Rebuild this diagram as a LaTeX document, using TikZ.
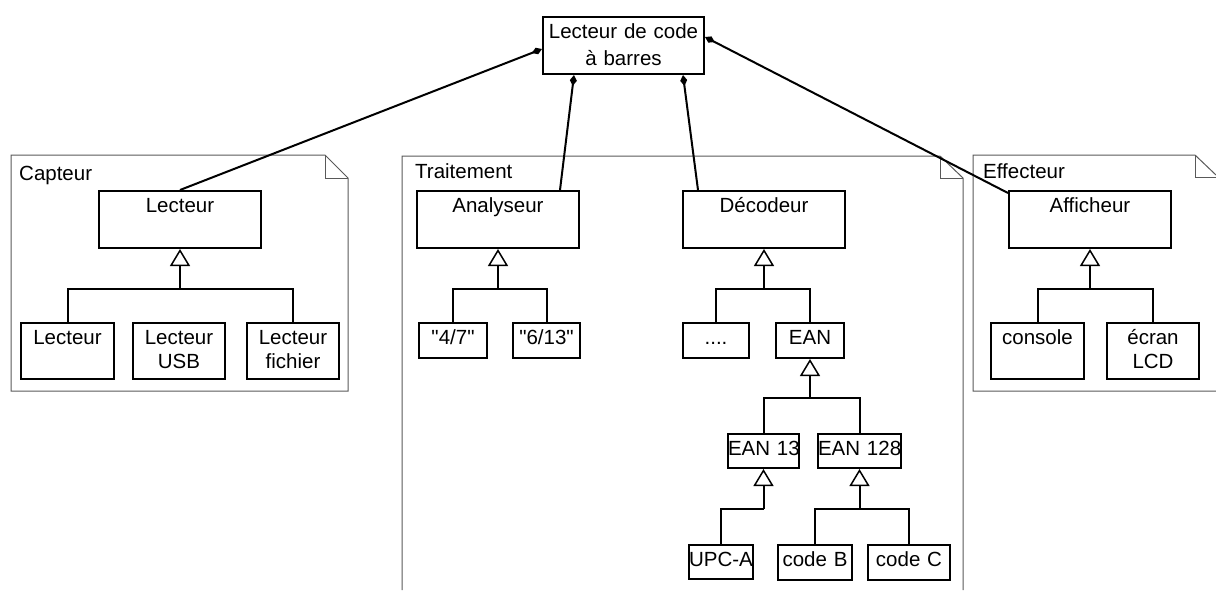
\documentclass[tikz,border=0pt]{standalone}
\usepackage{fontspec}
\setmainfont{Liberation Sans}
\usetikzlibrary{arrows.meta}

\begin{document}
\begin{tikzpicture}[x=1pt,y=-1pt,
  font=\fontsize{20.5}{24}\selectfont,
  cls/.style={draw,line width=2pt,anchor=north west,inner sep=0pt,align=center,
    text height=21pt,text depth=#1},
  cls/.default=36pt,
  pkg/.style={draw=black!65,line width=1pt},
  pkgname/.style={anchor=base west,inner sep=0pt},
  link/.style={line width=2pt},
  comp/.style={line width=2pt,-{Diamond[length=11pt,width=7pt]}},
  gen/.style={line width=2pt,-{Triangle[open,length=17pt,width=20pt,line width=1.5pt]}}]
\useasboundingbox (0,0) rectangle (1216,590);
% packages
\draw[pkg] (11,155) -- (325,155) -- (348,178) -- (348,391) -- (11,391) -- cycle;
\draw[pkg] (325,155) |- (348,178);
\draw[pkg] (402,590) -- (402,156) -- (940,156) -- (963,178) -- (963,590);
\draw[pkg] (940,156) |- (963,178);
\draw[pkg] (1216,391) -- (973,391) -- (973,155) -- (1195,155) -- (1216,175);
\draw[pkg] (1195,155) |- (1216,177);
\node at (19,180) [pkgname](capteur){Capteur};
\node at (415,178) [pkgname](traitement){Traitement};
\node at (983,178) [pkgname](effecteur){Effecteur};
% classes
\node at (542,16) [cls,text width=161pt,font=\fontsize{20.5}{27.6}\selectfont](lcb){Lecteur de code\\à barres};
\node at (98,190) [cls,text width=162pt](lecteur){Lecteur};
\node at (20,322) [cls=35pt,text width=93pt](lect1){Lecteur};
\node at (132,322) [cls=35pt,text width=92pt](lectusb){Lecteur\\USB};
\node at (246,322) [cls=35pt,text width=92pt](lectfich){Lecteur\\fichier};
\node at (416,190) [cls,text width=162pt](analyseur){Analyseur};
\node at (418,322) [cls=14pt,text width=68pt](q47){\textquotedbl 4/7\textquotedbl};
\node at (512,322) [cls=14pt,text width=67pt](q613){\textquotedbl 6/13\textquotedbl};
\node at (682,190) [cls,text width=162pt](decodeur){Décodeur};
\node at (682,322) [cls=14pt,text width=66pt](autres){....};
\node at (775,322) [cls=14pt,text width=68pt](ean){EAN};
\node at (727,433) [cls=13pt,text width=71pt](ean13){EAN~13};
\node at (817,433) [cls=13pt,text width=83pt](ean128){EAN~128};
\node at (688,544) [cls=13pt,text width=64pt](upca){UPC-A};
\node at (777,544) [cls=14pt,text width=74pt](codeb){code B};
\node at (867,544) [cls=14pt,text width=82pt](codec){code C};
\node at (1008,190) [cls,text width=162pt](afficheur){Afficheur};
\node at (990,322) [cls=35pt,text width=93pt](console){console};
\node at (1106,322) [cls=35pt,text width=92pt](ecran){écran\\LCD};
% composition
\draw[comp] (lecteur.north) -- ([yshift=-3.5pt]lcb.west);
\draw[comp] ([xshift=62pt]analyseur.north) -- ([xshift=-49.5pt]lcb.south);
\draw[comp] ([xshift=-66pt]decodeur.north) -- ([xshift=59.5pt]lcb.south);
\draw[comp] ([yshift=-3pt]afficheur.north west) -- ([yshift=8.5pt]lcb.east);
% inheritance
\coordinate (lecteur-j) at ([yshift=-40pt]lecteur.south);
\draw[link] (lect1.north) |- (lecteur-j) -| (lectfich.north);
\draw[gen] (lecteur-j) -- (lecteur.south);
\coordinate (analyseur-j) at ([yshift=-40pt]analyseur.south);
\draw[link] (q47.north) |- (analyseur-j) -| (q613.north);
\draw[gen] (analyseur-j) -- (analyseur.south);
\coordinate (decodeur-j) at ([yshift=-40pt]decodeur.south);
\draw[link] (autres.north) |- (decodeur-j) -| (ean.north);
\draw[gen] (decodeur-j) -- (decodeur.south);
\coordinate (ean-j) at ([yshift=-39pt]ean.south);
\draw[link] (ean13.north) |- (ean-j) -| (ean128.north);
\draw[gen] (ean-j) -- (ean.south);
\coordinate (ean13-j) at ([yshift=-40pt]ean13.south);
\draw[link] (upca.north) |- (ean13-j);
\draw[gen] (ean13-j) -- (ean13.south);
\coordinate (ean128-j) at ([yshift=-40pt]ean128.south);
\draw[link] (codeb.north) |- (ean128-j) -| (codec.north);
\draw[gen] (ean128-j) -- (ean128.south);
\coordinate (afficheur-j) at ([yshift=-40pt]afficheur.south);
\draw[link] (console.north) |- (afficheur-j) -| (ecran.north);
\draw[gen] (afficheur-j) -- (afficheur.south);
\end{tikzpicture}
\end{document}
